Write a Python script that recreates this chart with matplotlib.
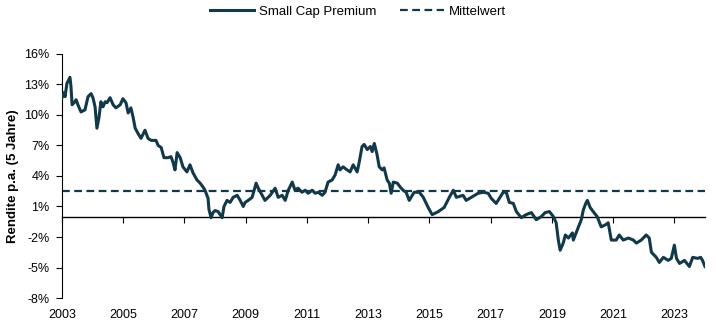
import matplotlib
matplotlib.use("Agg")
import matplotlib.pyplot as plt
from matplotlib.ticker import FuncFormatter, FixedLocator

plt.rcParams['font.family'] = ['Liberation Sans', 'DejaVu Sans']

# Small cap premium, rolling 5y return p.a.
years = [2003.00, 2003.07, 2003.10, 2003.16, 2003.26, 2003.29, 2003.33, 2003.42, 2003.46, 2003.52,
         2003.62, 2003.75, 2003.85, 2003.95, 2004.01, 2004.08, 2004.14, 2004.21, 2004.27, 2004.34,
         2004.41, 2004.47, 2004.57, 2004.67, 2004.76, 2004.90, 2004.99, 2005.09, 2005.16, 2005.25,
         2005.32, 2005.39, 2005.48, 2005.58, 2005.71, 2005.81, 2005.91, 2006.07, 2006.14, 2006.24,
         2006.33, 2006.46, 2006.56, 2006.63, 2006.69, 2006.76, 2006.86, 2006.95, 2007.08, 2007.18,
         2007.28, 2007.41, 2007.51, 2007.61, 2007.67, 2007.77, 2007.80, 2007.87, 2007.93, 2008.00,
         2008.10, 2008.23, 2008.29, 2008.39, 2008.49, 2008.59, 2008.72, 2008.82, 2008.92, 2008.98,
         2009.08, 2009.21, 2009.34, 2009.41, 2009.54, 2009.63, 2009.80, 2009.96, 2010.06, 2010.19,
         2010.29, 2010.39, 2010.52, 2010.61, 2010.71, 2010.84, 2010.94, 2011.04, 2011.17, 2011.27,
         2011.37, 2011.50, 2011.59, 2011.69, 2011.82, 2011.92, 2012.02, 2012.08, 2012.18, 2012.31,
         2012.41, 2012.51, 2012.64, 2012.71, 2012.80, 2012.87, 2012.97, 2013.07, 2013.13, 2013.20,
         2013.29, 2013.36, 2013.46, 2013.52, 2013.62, 2013.69, 2013.75, 2013.82, 2013.95, 2014.05,
         2014.14, 2014.24, 2014.34, 2014.50, 2014.67, 2014.80, 2014.96, 2015.09, 2015.29, 2015.48,
         2015.65, 2015.78, 2015.88, 2016.10, 2016.20, 2016.37, 2016.59, 2016.76, 2016.92, 2017.02,
         2017.18, 2017.41, 2017.51, 2017.61, 2017.74, 2017.84, 2018.00, 2018.16, 2018.33, 2018.49,
         2018.65, 2018.78, 2018.92, 2019.05, 2019.14, 2019.21, 2019.27, 2019.37, 2019.44, 2019.54,
         2019.67, 2019.70, 2019.83, 2019.96, 2020.03, 2020.12, 2020.16, 2020.25, 2020.35, 2020.48,
         2020.61, 2020.75, 2020.84, 2020.94, 2021.10, 2021.20, 2021.33, 2021.50, 2021.66, 2021.76,
         2021.92, 2022.08, 2022.18, 2022.25, 2022.41, 2022.51, 2022.64, 2022.80, 2022.90, 2023.00,
         2023.07, 2023.17, 2023.33, 2023.49, 2023.60, 2023.76, 2023.86, 2023.92, 2024.00]
premium = [11.7, 12.2, 11.8, 13.1, 13.7, 12.9, 11.0, 11.3, 11.5, 11.0,
           10.3, 10.5, 11.8, 12.1, 11.7, 10.8, 8.7, 9.8, 11.3, 10.8,
           11.3, 11.2, 11.7, 11.0, 10.7, 11.0, 11.6, 11.2, 10.2, 10.7,
           9.8, 8.7, 8.2, 7.7, 8.5, 7.7, 7.5, 7.5, 7.0, 6.8,
           5.8, 5.8, 5.9, 5.3, 4.6, 6.3, 5.8, 4.9, 4.4, 5.1,
           4.3, 3.6, 3.3, 2.9, 2.6, 1.8, 0.7, -0.1, 0.4, 0.6,
           0.5, -0.1, 1.0, 1.6, 1.4, 1.9, 2.1, 1.6, 1.0, 1.4,
           1.6, 1.9, 3.3, 2.8, 2.1, 1.6, 2.1, 2.8, 1.9, 2.1,
           1.6, 2.6, 3.4, 2.6, 2.8, 2.4, 2.6, 2.3, 2.6, 2.3,
           2.4, 2.1, 2.4, 3.4, 3.6, 4.1, 5.1, 4.6, 4.9, 4.6,
           4.4, 5.1, 4.4, 5.4, 6.9, 7.1, 6.6, 6.9, 6.4, 7.2,
           6.1, 4.9, 4.6, 4.8, 3.6, 3.3, 2.3, 3.4, 3.3, 2.9,
           2.6, 2.4, 1.6, 2.4, 2.4, 1.9, 0.9, 0.2, 0.5, 0.9,
           1.9, 2.6, 1.9, 2.1, 1.6, 1.9, 2.3, 2.4, 2.3, 1.8,
           1.3, 2.4, 2.4, 1.4, 1.3, 0.5, -0.1, 0.2, 0.4, -0.3,
           0.0, 0.4, 0.5, 0.0, -0.6, -2.3, -3.3, -2.6, -1.8, -2.1,
           -1.6, -2.3, -1.3, -0.3, 0.7, 1.4, 1.6, 0.9, 0.5, 0.0,
           -1.0, -0.8, -0.6, -2.3, -2.3, -1.8, -2.3, -2.1, -2.3, -2.6,
           -2.3, -1.8, -2.1, -3.5, -4.0, -4.5, -4.0, -4.3, -4.1, -2.8,
           -4.1, -4.6, -4.3, -4.9, -4.0, -4.1, -4.0, -4.3, -4.9]
mean_value = 2.55

year_ticks = list(range(2003, 2024, 2))
pct_ticks = [-8, -5, -2, 1, 4, 7, 10, 13, 16]

color = '#12394a'

fig = plt.figure(figsize=(7.16, 3.25), dpi=100)
ax = fig.add_axes([0.0866, 0.083, 0.898, 0.751])

ax.plot(years, premium, color=color, lw=2.2, label='Small Cap Premium', zorder=3)
ax.axhline(mean_value, color=color, lw=1.6, ls=(0, (3.5, 2)), label='Mittelwert', zorder=2)

ax.set_xlim(2003, 2024)
ax.set_ylim(-8, 16)

ax.yaxis.set_major_locator(FixedLocator(pct_ticks))
ax.yaxis.set_major_formatter(FuncFormatter(lambda v, p: f"{int(round(v))}%"))
ax.tick_params(axis='y', labelsize=9, length=4, width=0.8, pad=5)

# x axis crosses at zero, labels sit at the bottom
ax.spines['bottom'].set_position(('data', 0))
ax.spines['top'].set_visible(False)
ax.spines['right'].set_visible(False)
ax.spines['left'].set_linewidth(0.8)
ax.spines['bottom'].set_linewidth(1.0)
ax.set_xticks(year_ticks)
ax.tick_params(axis='x', length=4, width=0.8, labelbottom=False)

sec = ax.secondary_xaxis(0.0)
sec.set_xticks(year_ticks)
sec.set_xticklabels([str(y) for y in year_ticks])
sec.tick_params(axis='x', length=0, labelsize=9, pad=8)
sec.spines['bottom'].set_visible(False)

ax.set_ylabel('Rendite p.a. (5 Jahre)', fontsize=9.5, fontweight='bold', labelpad=4)

fig.legend(loc='upper center', bbox_to_anchor=(0.5, 1.02), ncol=2, frameon=False,
           fontsize=9.5, handlelength=3.3, columnspacing=1.8, handletextpad=0.4)

fig.savefig('out.png', dpi=100)
